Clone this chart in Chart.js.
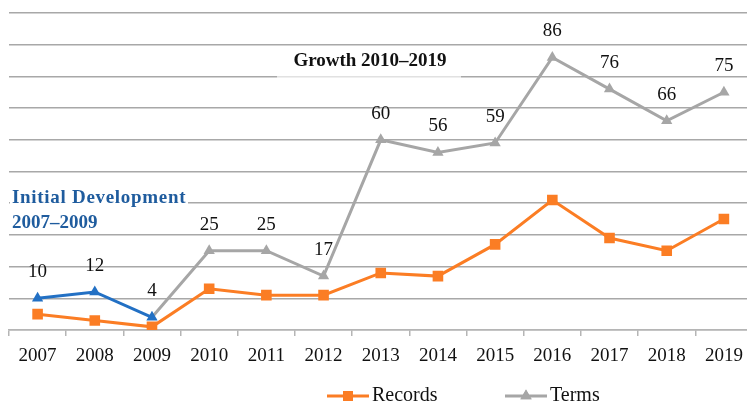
<!DOCTYPE html>
<html>
<head>
<meta charset="utf-8">
<script src="https://cdn.jsdelivr.net/npm/chart.js@4.4.0/dist/chart.umd.min.js"></script>
<style>
  html, body { margin: 0; padding: 0; background: #fff; overflow: hidden; }
  #wrap { position: absolute; left: 0; top: 0; width: 760px; height: 403px; }
</style>
</head>
<body>
<div id="wrap"><canvas id="chart"></canvas></div>
<script>
const years = ['2007', '2008', '2009', '2010', '2011', '2012', '2013', '2014', '2015', '2016', '2017', '2018', '2019'];
const records = [5, 3, 1, 13, 11, 11, 18, 17, 27, 41, 29, 25, 35];
const terms = [10, 12, 4, 25, 25, 17, 60, 56, 59, 86, 76, 66, 75];
const yTicks = [0, 10, 20, 30, 40, 50, 60, 70, 80, 90, 100];

const ORANGE = '#fb7d24';
const GRAY = '#a6a6a6';
const BLUE = '#2270c4';
const NOTE_BLUE = '#1f5c9e';
const SERIF = '"Liberation Serif", "DejaVu Serif", serif';

// last index of the early (blue) phase
const earlyEnd = 2;

// values over the Terms points
const valueLabels = {
  id: 'valueLabels',
  afterDatasetsDraw(chart) {
    const ctx = chart.ctx;
    const meta = chart.getDatasetMeta(1);
    ctx.save();
    ctx.font = '19px ' + SERIF;
    ctx.fillStyle = '#111';
    ctx.textAlign = 'center';
    ctx.textBaseline = 'middle';
    meta.data.forEach((pt, i) => {
      ctx.fillText(String(terms[i]), pt.x, pt.y - 26);
    });
    ctx.restore();
  }
};

// phase notes on the plot
const phaseNotes = {
  id: 'phaseNotes',
  beforeDatasetsDraw(chart) {
    const ctx = chart.ctx;
    ctx.save();
    ctx.fillStyle = 'rgba(255,255,255,0.65)';
    ctx.fillRect(277, 47, 184, 31);
    ctx.fillStyle = '#fff';
    ctx.fillRect(10, 184, 178, 46);

    ctx.font = 'bold 19px ' + SERIF;
    ctx.textBaseline = 'middle';
    ctx.textAlign = 'center';
    ctx.fillStyle = '#111';
    ctx.fillText('Growth 2010\u20132019', 370, 61);

    ctx.textAlign = 'left';
    ctx.fillStyle = NOTE_BLUE;
    ctx.letterSpacing = '0.7px';
    ctx.fillText('Initial Development', 12, 198);
    ctx.letterSpacing = '0px';
    ctx.fillText('2007\u20132009', 12, 223);
    ctx.restore();
  }
};

// legend: line with marker, like the office chart
const lineLegend = {
  id: 'lineLegend',
  afterDraw(chart) {
    const ctx = chart.ctx;
    const y = 396;
    const items = [
      { x: 327, ds: chart.data.datasets[0], color: ORANGE },
      { x: 505, ds: chart.data.datasets[1], color: GRAY }
    ];
    ctx.save();
    items.forEach(it => {
      ctx.strokeStyle = it.color;
      ctx.lineWidth = 3;
      ctx.beginPath();
      ctx.moveTo(it.x, y);
      ctx.lineTo(it.x + 42, y);
      ctx.stroke();
      ctx.fillStyle = it.color;
      Chart.helpers.drawPoint(ctx, {
        pointStyle: it.ds.pointStyle,
        radius: it.ds.pointStyle === 'rect' ? 7 : 6.5,
        borderWidth: 0
      }, it.x + 21, y);
      ctx.fill();
      ctx.font = '20px ' + SERIF;
      ctx.fillStyle = '#111';
      ctx.textAlign = 'left';
      ctx.textBaseline = 'middle';
      ctx.fillText(it.ds.label, it.x + 45, y);
    });
    ctx.restore();
  }
};

new Chart(document.getElementById('chart'), {
  type: 'line',
  data: {
    labels: years,
    datasets: [
      {
        label: 'Records',
        data: records,
        borderColor: ORANGE,
        backgroundColor: ORANGE,
        borderWidth: 3,
        pointStyle: 'rect',
        pointRadius: 7.5,
        pointBorderWidth: 0,
        tension: 0,
        order: 2
      },
      {
        label: 'Terms',
        data: terms,
        borderColor: GRAY,
        backgroundColor: terms.map((v, i) => i <= earlyEnd ? BLUE : GRAY),
        pointBackgroundColor: terms.map((v, i) => i <= earlyEnd ? BLUE : GRAY),
        borderWidth: 3,
        pointStyle: 'triangle',
        pointRadius: 6.5,
        pointBorderWidth: 0,
        tension: 0,
        order: 1,
        segment: {
          borderColor: c => c.p0DataIndex < earlyEnd ? BLUE : GRAY
        }
      }
    ]
  },
  options: {
    responsive: true,
    maintainAspectRatio: false,
    animation: false,
    layout: { padding: { left: 9, right: 7, top: 13, bottom: 0 } },
    plugins: {
      legend: { display: false },
      tooltip: { enabled: false }
    },
    scales: {
      x: {
        offset: true,
        grid: {
          offset: true,
          drawOnChartArea: false,
          drawTicks: true,
          tickLength: 6,
          color: '#b5b5b5',
          lineWidth: 1.5
        },
        border: { display: true, color: '#b5b5b5', width: 1.5 },
        ticks: {
          color: '#111',
          font: { family: SERIF, size: 19 },
          padding: 9,
          maxRotation: 0,
          autoSkip: false
        },
        afterFit(scale) { scale.height = 73; }
      },
      y: {
        min: 0,
        max: 100,
        afterBuildTicks(scale) { scale.ticks = yTicks.map(v => ({ value: v })); },
        ticks: { display: false },
        border: { display: false },
        grid: { drawTicks: false, color: '#a8a8a8', lineWidth: 1.5 },
        afterFit(scale) { scale.width = 0; }
      }
    }
  },
  plugins: [phaseNotes, valueLabels, lineLegend]
});
</script>
</body>
</html>
